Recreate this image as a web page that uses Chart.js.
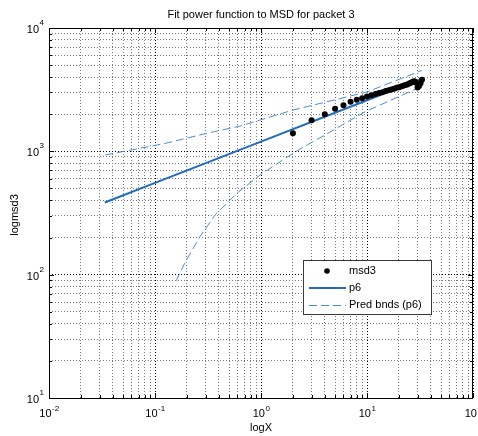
<!DOCTYPE html>
<html>
<head>
<meta charset="utf-8">
<script src="https://cdn.jsdelivr.net/npm/chart.js@4/dist/chart.umd.min.js"></script>
<style>
  html, body { margin: 0; padding: 0; background: #fff; }
</style>
</head>
<body>
<canvas id="fitChart" width="478" height="436"></canvas>
<script>
// data (log-log axes)
const lagX  = [2, 3, 4, 5, 6, 7, 8, 9, 10, 11, 12, 13, 14, 15, 16, 17, 18, 19, 20, 21, 22, 23, 24, 25, 26, 27, 28, 29, 30, 31, 32, 33];
const msd3Y = [1400, 1784, 1995, 2216, 2361, 2526, 2621, 2700, 2790, 2850, 2910, 2970, 3020, 3080, 3130, 3170, 3220, 3270, 3310, 3360, 3400, 3450, 3490, 3540, 3600, 3660, 3700, 3600, 3300, 3380, 3560, 3800];

// fitted power function p6
const fitX = [0.0336, 0.1, 1, 10, 32.9];
const fitY = [385, 555, 1200, 2594, 3866];

// prediction bounds
const upX = [0.034, 0.1, 0.133, 0.3, 0.634, 2, 10, 32.9];
const upY = [935, 1117, 1175, 1393, 1603, 2160, 3030, 4530];
const loX = [0.158, 0.191, 0.265, 0.368, 0.59, 0.98, 1.6, 2.25, 4, 9.6, 18.4, 32.9];
const loY = [89, 124, 203, 304, 456, 643, 850, 1026, 1355, 2094, 2693, 3360];

// axis decades
const xExp = [-2, -1, 0, 1, 2];
const yExp = [1, 2, 3, 4];

const FONT = '"Liberation Sans", Arial, Helvetica, sans-serif';
const fitColor = '#1d6cbd';
const bndColor = '#4a8ed2';

const toPts = (xs, ys) => xs.map((x, i) => ({ x: x, y: ys[i] }));
const isMajor = v => Math.abs(Math.log10(v) - Math.round(Math.log10(v))) < 1e-9;

// ticks at 1..9 x 10^n, like matlab minor grid
function logTicks(exps) {
  const out = [];
  for (let e = exps[0]; e < exps[exps.length - 1]; e++) {
    for (let m = 1; m < 10; m++) out.push({ value: +(m * Math.pow(10, e)).toPrecision(3) });
  }
  out.push({ value: Math.pow(10, exps[exps.length - 1]) });
  return out;
}

function axisOpts(exps) {
  return {
    type: 'logarithmic',
    min: Math.pow(10, exps[0]),
    max: Math.pow(10, exps[exps.length - 1]),
    afterBuildTicks: s => { s.ticks = logTicks(exps); },
    ticks: { display: false },
    grid: {
      drawTicks: false,
      lineWidth: 1,
      color: c => (c.tick && isMajor(c.tick.value)) ? '#000' : '#7a7a7a'
    },
    border: { display: false, dash: [1, 2] }
  };
}

// matlab-ish extras: box, inward ticks, 10^n labels, axis labels, legend
const matlabAxes = {
  id: 'matlabAxes',
  afterDraw(chart) {
    const ctx = chart.ctx, a = chart.chartArea;
    const xs = chart.scales.x, ys = chart.scales.y;
    ctx.save();
    ctx.strokeStyle = '#000';
    ctx.lineWidth = 1;
    ctx.setLineDash([]);
    ctx.strokeRect(Math.round(a.left) + 0.5, Math.round(a.top) + 0.5, Math.round(a.right - a.left) - 1, Math.round(a.bottom - a.top));

    ctx.beginPath();
    xs.ticks.forEach(t => {
      const px = Math.round(xs.getPixelForValue(t.value)) + 0.5, len = isMajor(t.value) ? 5 : 3;
      ctx.moveTo(px, a.bottom); ctx.lineTo(px, a.bottom - len);
      ctx.moveTo(px, a.top); ctx.lineTo(px, a.top + len);
    });
    ys.ticks.forEach(t => {
      const py = Math.round(ys.getPixelForValue(t.value)) + 0.5, len = isMajor(t.value) ? 5 : 3;
      ctx.moveTo(a.left, py); ctx.lineTo(a.left + len, py);
      ctx.moveTo(a.right, py); ctx.lineTo(a.right - len, py);
    });
    ctx.stroke();

    ctx.fillStyle = '#000';
    ctx.textBaseline = 'alphabetic';
    const big = '11px ' + FONT, small = '8px ' + FONT;
    xExp.forEach(e => {
      const px = xs.getPixelForValue(Math.pow(10, e));
      ctx.font = big; const w1 = ctx.measureText('10').width;
      ctx.font = small; const w2 = ctx.measureText(String(e)).width;
      const x0 = px - (w1 + w2) / 2;
      ctx.textAlign = 'left';
      ctx.font = big; ctx.fillText('10', x0, a.bottom + 19);
      ctx.font = small; ctx.fillText(String(e), x0 + w1 + 0.5, a.bottom + 12.5);
    });
    yExp.forEach(e => {
      const py = ys.getPixelForValue(Math.pow(10, e));
      ctx.font = small; const w2 = ctx.measureText(String(e)).width;
      ctx.textAlign = 'right';
      ctx.fillText(String(e), a.left - 5, py - 3);
      ctx.font = big; ctx.fillText('10', a.left - 5 - w2 - 0.5, py + 5);
    });

    ctx.font = big;
    ctx.textAlign = 'center';
    ctx.fillText('logX', (a.left + a.right) / 2, a.bottom + 33);
    ctx.save();
    ctx.translate(18, (a.top + a.bottom) / 2 + 2);
    ctx.rotate(-Math.PI / 2);
    ctx.fillText('logmsd3', 0, 0);
    ctx.restore();

    // legend box
    const lx = 303, ly = 260, lw = 129, lh = 55;
    ctx.fillStyle = '#fff';
    ctx.fillRect(lx, ly, lw, lh);
    ctx.strokeStyle = '#3a3a3a';
    ctx.strokeRect(lx + 0.5, ly + 0.5, lw - 1, lh - 1);
    const ds = chart.data.datasets;
    const rows = [ly + 11, ly + 28, ly + 45];
    ctx.fillStyle = '#000';
    ctx.beginPath(); ctx.arc(327, rows[0], 2.8, 0, Math.PI * 2); ctx.fill();
    ctx.lineWidth = 2; ctx.strokeStyle = ds[1].borderColor;
    ctx.beginPath(); ctx.moveTo(309, rows[1]); ctx.lineTo(346, rows[1]); ctx.stroke();
    ctx.lineWidth = 1; ctx.strokeStyle = ds[2].borderColor; ctx.setLineDash(ds[2].borderDash);
    ctx.beginPath(); ctx.moveTo(309, rows[2] + 0.5); ctx.lineTo(346, rows[2] + 0.5); ctx.stroke();
    ctx.setLineDash([]);
    ctx.fillStyle = '#000';
    ctx.textAlign = 'left';
    ctx.textBaseline = 'middle';
    [ds[0].label, ds[1].label, ds[2].label].forEach((t, i) => ctx.fillText(t, 349, rows[i]));
    ctx.restore();
  }
};

new Chart(document.getElementById('fitChart'), {
  type: 'scatter',
  data: {
    datasets: [
      { label: 'msd3', data: toPts(lagX, msd3Y), showLine: false, pointRadius: 3, pointBorderWidth: 0,
        backgroundColor: '#000', borderColor: '#000', order: 0 },
      { label: 'p6', data: toPts(fitX, fitY), showLine: true, pointRadius: 0, borderWidth: 2,
        borderColor: fitColor, order: 1 },
      { label: 'Pred bnds (p6)', data: toPts(upX, upY), showLine: true, pointRadius: 0, borderWidth: 1,
        borderColor: bndColor, borderDash: [8, 4], order: 2 },
      { label: 'Pred bnds (p6) lower', data: toPts(loX, loY), showLine: true, pointRadius: 0, borderWidth: 1,
        borderColor: bndColor, borderDash: [8, 4], order: 2 }
    ]
  },
  options: {
    responsive: false,
    animation: false,
    devicePixelRatio: 1,
    layout: { padding: { left: 49, right: 5, top: 0, bottom: 38 } },
    scales: { x: axisOpts(xExp), y: axisOpts(yExp) },
    plugins: {
      legend: { display: false },
      tooltip: { enabled: false },
      title: {
        display: true, fullSize: false,
        text: 'Fit power function to MSD for packet 3',
        color: '#000',
        font: { family: FONT, size: 11, weight: 'normal' },
        padding: { top: 8, bottom: 6.8 }
      }
    }
  },
  plugins: [matlabAxes]
});
</script>
</body>
</html>
